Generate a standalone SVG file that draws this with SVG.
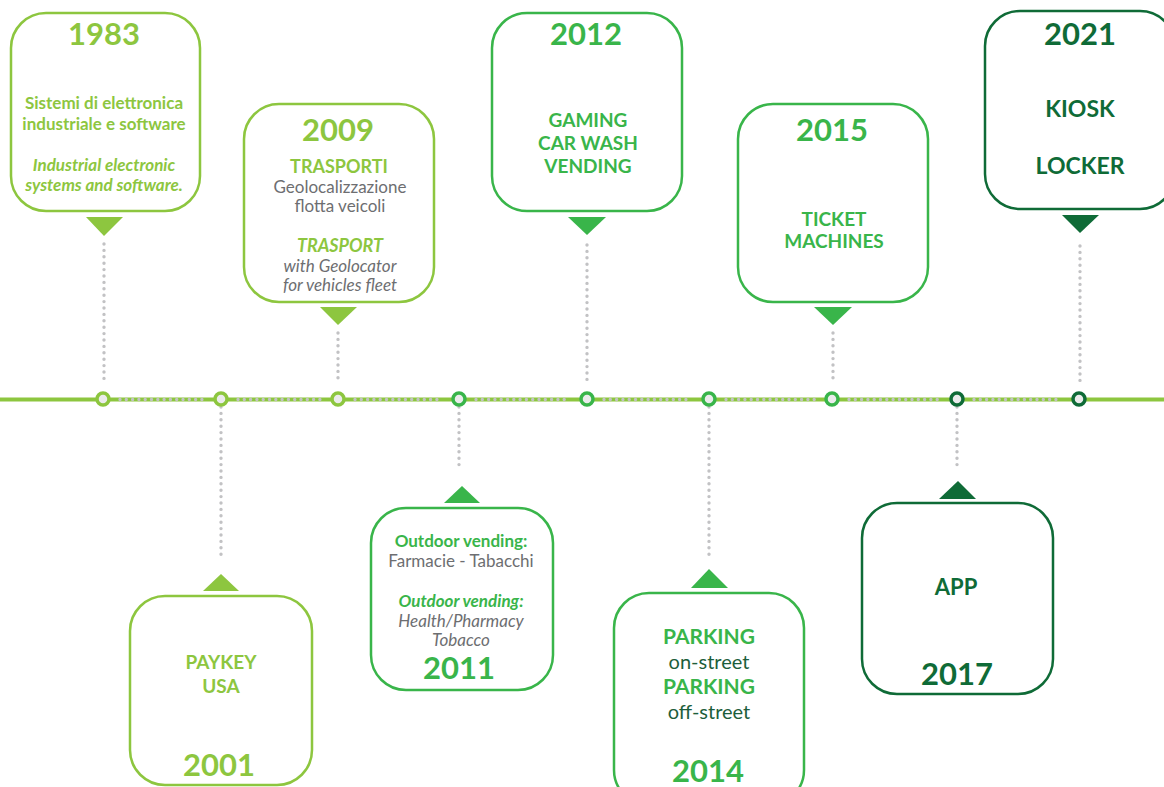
<svg xmlns="http://www.w3.org/2000/svg" width="1164" height="787" viewBox="0 0 1164 787">
<style>
.box{fill:#fff;stroke-width:2.5}
.lg{stroke:#8dc63f}.mg{stroke:#39b54a}.dg{stroke:#0f6b37}
.flg{fill:#8dc63f}.fmg{fill:#39b54a}.fdg{fill:#0f6b37}
text{font-family:Lato,"Open Sans","Liberation Sans",sans-serif;text-anchor:middle}
.yr{font-size:31px;font-weight:700}
.b{font-weight:700}
.gr{fill:#6d6e71}
.vd{stroke:#c2c2c4;stroke-width:3.4;stroke-linecap:round;stroke-dasharray:0 6.4;fill:none}
.hd{stroke:#c2c2c4;stroke-width:3.4;stroke-linecap:round;stroke-dasharray:0 6.3;fill:none}
.dot{fill:#ebebec;stroke-width:3.5}
</style>
<rect width="1164" height="787" fill="#fff"/>
<g id="connectors">
<line x1="0" y1="399.5" x2="1164" y2="399.5" stroke="#8dc63f" stroke-width="4"/>
<path class="hd" d="M120 399.5H204M238 399.5H321M355 399.5H442M476 399.5H570M604 399.5H692M726 399.5H815M849 399.5H940M974 399.5H1062"/>
<path class="vd" d="M104 244V381M338 333V381M587 245V381M833 333V381M1080 246V382M221 407V558M459 407V467M709 407V559M957 407V467"/>
<polygon class="flg" points="86,217 123,217 104,236"/>
<polygon class="flg" points="320,307 357,307 338,325"/>
<polygon class="fmg" points="568,217 606,217 587,235"/>
<polygon class="fmg" points="814,307 852,307 833,325"/>
<polygon class="fdg" points="1062,215 1099,215 1080,233"/>
<polygon class="flg" points="203,591 239,591 221,574"/>
<polygon class="fmg" points="444,503 480,503 462,486"/>
<polygon class="fmg" points="691,588 728,588 709,569"/>
<polygon class="fdg" points="939,499 976,499 958,481"/>
<circle class="dot lg" cx="103" cy="399" r="6"/>
<circle class="dot lg" cx="221" cy="399" r="6"/>
<circle class="dot lg" cx="338" cy="399" r="6"/>
<circle class="dot mg" cx="459" cy="399" r="6"/>
<circle class="dot mg" cx="587" cy="399" r="6"/>
<circle class="dot mg" cx="709" cy="399" r="6"/>
<circle class="dot mg" cx="832" cy="399" r="6"/>
<circle class="dot dg" cx="957" cy="399" r="6"/>
<circle class="dot dg" cx="1079" cy="399" r="6"/>
</g>
<g id="n1983">
<rect class="box lg" x="11" y="13" width="189" height="198" rx="35"/>
<text x="104" y="45" class="yr flg">1983</text>
<text x="104" y="109" class="b flg" font-size="17">Sistemi di elettronica</text>
<text x="104" y="130" class="b flg" font-size="17">industriale e software</text>
<text x="104" y="171" class="b flg" font-size="17" font-style="italic">Industrial electronic</text>
<text x="104" y="191" class="b flg" font-size="17" font-style="italic">systems and software.</text>
</g>
<g id="n2009">
<rect class="box lg" x="244" y="104" width="190" height="198" rx="35"/>
<text x="338" y="141" class="yr flg">2009</text>
<text x="339" y="173" class="b flg" font-size="18">TRASPORTI</text>
<text x="340" y="193" class="gr" font-size="17">Geolocalizzazione</text>
<text x="340" y="212" class="gr" font-size="17">flotta veicoli</text>
<text x="340" y="252" class="b flg" font-size="18" font-style="italic">TRASPORT</text>
<text x="340" y="272" class="gr" font-size="17" font-style="italic">with Geolocator</text>
<text x="340" y="291" class="gr" font-size="17" font-style="italic">for vehicles fleet</text>
</g>
<g id="n2012">
<rect class="box mg" x="492" y="13" width="190" height="198" rx="35"/>
<text x="586" y="45" class="yr fmg">2012</text>
<text x="588" y="127" class="b fmg" font-size="19">GAMING</text>
<text x="588" y="150" class="b fmg" font-size="19">CAR WASH</text>
<text x="588" y="173" class="b fmg" font-size="19">VENDING</text>
</g>
<g id="n2015">
<rect class="box mg" x="738" y="104" width="190" height="198" rx="35"/>
<text x="832" y="141" class="yr fmg">2015</text>
<text x="834" y="226" class="b fmg" font-size="19">TICKET</text>
<text x="834" y="248" class="b fmg" font-size="19">MACHINES</text>
</g>
<g id="n2021">
<rect class="box dg" x="985" y="11" width="190" height="198" rx="35"/>
<text x="1080" y="45" class="yr fdg">2021</text>
<text x="1080" y="117" class="b fdg" font-size="23">KIOSK</text>
<text x="1080" y="174" class="b fdg" font-size="23">LOCKER</text>
</g>
<g id="n2001">
<rect class="box lg" x="130" y="596" width="182" height="189" rx="35"/>
<text x="221" y="669" class="b flg" font-size="19">PAYKEY</text>
<text x="221" y="693" class="b flg" font-size="19">USA</text>
<text x="219" y="776" class="yr flg">2001</text>
</g>
<g id="n2011">
<rect class="box mg" x="371" y="508" width="182" height="182" rx="35"/>
<text x="461" y="547" class="b fmg" font-size="17">Outdoor vending:</text>
<text x="461" y="567" class="gr" font-size="17">Farmacie - Tabacchi</text>
<text x="461" y="607" class="b fmg" font-size="17" font-style="italic">Outdoor vending:</text>
<text x="461" y="627" class="gr" font-size="17" font-style="italic">Health/Pharmacy</text>
<text x="461" y="646" class="gr" font-size="17" font-style="italic">Tobacco</text>
<text x="459" y="679" class="yr fmg">2011</text>
</g>
<g id="n2014">
<rect class="box mg" x="614" y="593" width="190" height="212" rx="35"/>
<text x="709" y="644" class="b fmg" font-size="21">PARKING</text>
<text x="709" y="669" fill="#1d5e3b" font-size="20">on-street</text>
<text x="709" y="694" class="b fmg" font-size="21">PARKING</text>
<text x="709" y="719" fill="#1d5e3b" font-size="20">off-street</text>
<text x="708" y="782" class="yr fmg">2014</text>
</g>
<g id="n2017">
<rect class="box dg" x="862" y="503" width="191" height="191" rx="35"/>
<text x="956" y="595" class="b fdg" font-size="22">APP</text>
<text x="957" y="685" class="yr fdg">2017</text>
</g>
</svg>
